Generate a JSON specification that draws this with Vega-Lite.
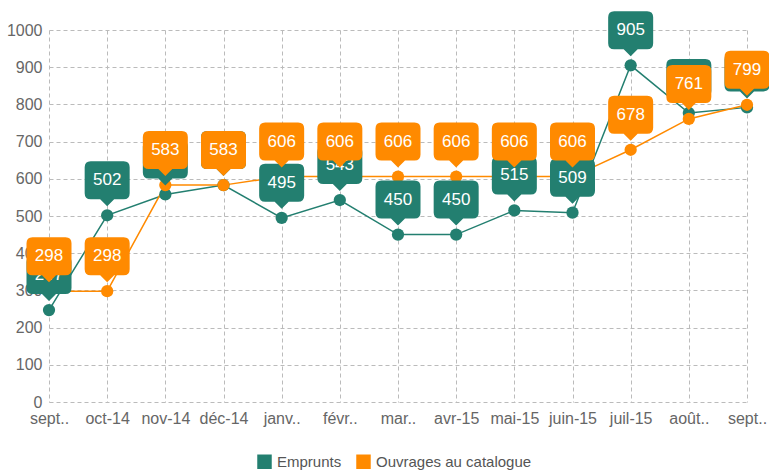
{
  "$schema": "https://vega.github.io/schema/vega-lite/v6.json",
  "width": 698,
  "height": 372,
  "autosize": "none",
  "padding": {"left": 49, "top": 30, "right": 22, "bottom": 69},
  "background": "white",
  "config": {
    "view": {"stroke": null},
    "font": "Liberation Sans",
    "axis": {
      "grid": true,
      "gridColor": "#bbbbbb",
      "gridDash": [4, 3],
      "gridWidth": 1,
      "domain": false,
      "ticks": false,
      "labelColor": "#666666",
      "labelFontSize": 16,
      "labelFont": "Liberation Sans",
      "title": null
    },
    "legend": {
      "title": null, "orient": "none", "legendX": 208, "legendY": 424, "direction": "horizontal",
      "symbolType": "square", "symbolSize": 210, "labelFontSize": 15, "labelColor": "#555555",
      "labelFont": "Liberation Sans", "columnPadding": 14, "symbolStrokeWidth": 0, "labelOffset": 5
    }
  },
  "data": {
    "values": [
      {"mois": "sept.. 2014", "serie": "Emprunts", "valeur": 247},
      {"mois": "oct-14", "serie": "Emprunts", "valeur": 502},
      {"mois": "nov-14", "serie": "Emprunts", "valeur": 558},
      {"mois": "déc-14", "serie": "Emprunts", "valeur": 583},
      {"mois": "janv.. 2015", "serie": "Emprunts", "valeur": 495},
      {"mois": "févr.. 2015", "serie": "Emprunts", "valeur": 543},
      {"mois": "mar.. 2015", "serie": "Emprunts", "valeur": 450},
      {"mois": "avr-15", "serie": "Emprunts", "valeur": 450},
      {"mois": "mai-15", "serie": "Emprunts", "valeur": 515},
      {"mois": "juin-15", "serie": "Emprunts", "valeur": 509},
      {"mois": "juil-15", "serie": "Emprunts", "valeur": 905},
      {"mois": "août.. 2015", "serie": "Emprunts", "valeur": 777},
      {"mois": "sept.. 2015", "serie": "Emprunts", "valeur": 792},
      {"mois": "sept.. 2014", "serie": "Ouvrages au catalogue", "valeur": 298},
      {"mois": "oct-14", "serie": "Ouvrages au catalogue", "valeur": 298},
      {"mois": "nov-14", "serie": "Ouvrages au catalogue", "valeur": 583},
      {"mois": "déc-14", "serie": "Ouvrages au catalogue", "valeur": 583},
      {"mois": "janv.. 2015", "serie": "Ouvrages au catalogue", "valeur": 606},
      {"mois": "févr.. 2015", "serie": "Ouvrages au catalogue", "valeur": 606},
      {"mois": "mar.. 2015", "serie": "Ouvrages au catalogue", "valeur": 606},
      {"mois": "avr-15", "serie": "Ouvrages au catalogue", "valeur": 606},
      {"mois": "mai-15", "serie": "Ouvrages au catalogue", "valeur": 606},
      {"mois": "juin-15", "serie": "Ouvrages au catalogue", "valeur": 606},
      {"mois": "juil-15", "serie": "Ouvrages au catalogue", "valeur": 678},
      {"mois": "août.. 2015", "serie": "Ouvrages au catalogue", "valeur": 761},
      {"mois": "sept.. 2015", "serie": "Ouvrages au catalogue", "valeur": 799}
    ]
  },
  "encoding": {
    "x": {
      "field": "mois",
      "type": "ordinal",
      "sort": null,
      "scale": {"type": "point", "padding": 0},
      "axis": {"labelAngle": 0, "labelPadding": 8, "labelExpr": "split(datum.value, ' ')[0]"}
    },
    "y": {
      "field": "valeur",
      "type": "quantitative",
      "scale": {"domain": [0, 1000], "nice": false},
      "axis": {"values": [0, 100, 200, 300, 400, 500, 600, 700, 800, 900, 1000], "labelPadding": 7, "format": "d"}
    }
  },
  "layer": [
    {
      "mark": {"type": "line", "strokeWidth": 1.5, "clip": false},
      "encoding": {
        "color": {"field": "serie", "type": "nominal", "scale": {"domain": ["Emprunts", "Ouvrages au catalogue"], "range": ["#237f70", "#ff8a00"]}},
        "detail": {"field": "serie"}
      }
    },
    {
      "mark": {"type": "point", "filled": true, "size": 150, "opacity": 1, "shape": "circle", "clip": false},
      "encoding": {
        "color": {"field": "serie", "type": "nominal", "scale": {"domain": ["Emprunts", "Ouvrages au catalogue"], "range": ["#237f70", "#ff8a00"]}}
      }
    },
    {
      "transform": [{"filter": "datum.serie === 'Emprunts'"}],
      "mark": {"type": "point", "filled": true, "size": 10000, "opacity": 1, "color": "#237f70", "clip": false,
        "shape": "M -0.33,-1.08 L 0.33,-1.08 Q 0.45,-1.08 0.45,-0.96 L 0.45,-0.44 Q 0.45,-0.32 0.33,-0.32 L 0.14,-0.32 L 0,-0.18 L -0.14,-0.32 L -0.33,-0.32 Q -0.45,-0.32 -0.45,-0.44 L -0.45,-0.96 Q -0.45,-1.08 -0.33,-1.08 Z"}
    },
    {
      "transform": [{"filter": "datum.serie === 'Emprunts'"}],
      "mark": {"type": "text", "color": "white", "fontSize": 17, "font": "Liberation Sans", "dy": -35, "baseline": "middle", "align": "center", "clip": false},
      "encoding": {"text": {"field": "valeur", "type": "quantitative"}}
    },
    {
      "transform": [{"filter": "datum.serie === 'Ouvrages au catalogue'"}],
      "mark": {"type": "point", "filled": true, "size": 10000, "opacity": 1, "color": "#ff8a00", "clip": false,
        "shape": "M -0.33,-1.08 L 0.33,-1.08 Q 0.45,-1.08 0.45,-0.96 L 0.45,-0.44 Q 0.45,-0.32 0.33,-0.32 L 0.14,-0.32 L 0,-0.18 L -0.14,-0.32 L -0.33,-0.32 Q -0.45,-0.32 -0.45,-0.44 L -0.45,-0.96 Q -0.45,-1.08 -0.33,-1.08 Z"}
    },
    {
      "transform": [{"filter": "datum.serie === 'Ouvrages au catalogue'"}],
      "mark": {"type": "text", "color": "white", "fontSize": 17, "font": "Liberation Sans", "dy": -35, "baseline": "middle", "align": "center", "clip": false},
      "encoding": {"text": {"field": "valeur", "type": "quantitative"}}
    }
  ]
}
